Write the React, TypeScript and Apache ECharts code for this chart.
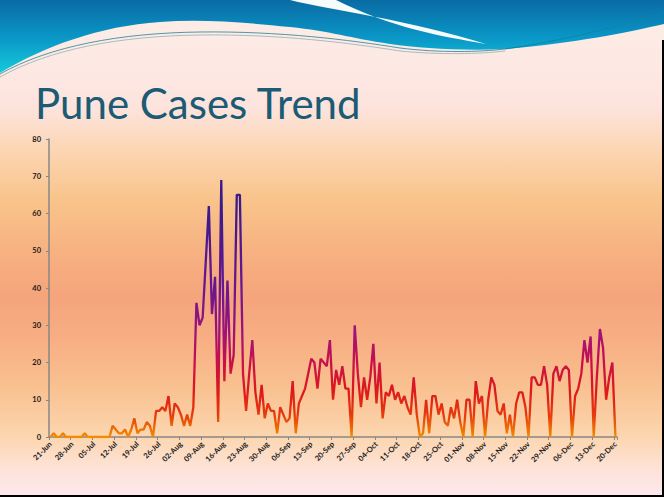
import React, { useEffect, useRef } from 'react';
import * as echarts from 'echarts';

// ---- data ----
const monthNames = ['Jun', 'Jul', 'Aug', 'Sep', 'Oct', 'Nov', 'Dec'];
const monthFirstDay = [21, 1, 1, 1, 1, 1, 1];
const junCases = [0, 1, 0, 0, 1, 0, 0, 0, 0, 0];
const julCases = [0, 1, 0, 0, 0, 0, 0, 0, 0, 0, 3, 2, 1, 1, 2, 0, 2, 5, 1, 2, 2, 4, 3, 0, 7, 7, 8, 7, 11, 3, 9];
const augCases = [8, 6, 3, 6, 3, 8, 36, 30, 32, 47, 62, 33, 43, 4, 69, 15, 42, 17, 22, 65, 65, 17, 7, 17, 26, 12, 6, 14, 5, 9, 7];
const sepCases = [7, 1, 8, 6, 4, 5, 15, 1, 9, 11, 13, 17, 21, 20, 13, 21, 20, 19, 26, 10, 18, 14, 19, 13, 13, 0, 30, 17, 8, 16];
const octCases = [10, 16, 25, 9, 20, 5, 12, 11, 14, 10, 12, 9, 11, 8, 6, 16, 6, 0, 1, 10, 1, 11, 11, 6, 9, 4, 3, 8, 5, 10, 4];
const novCases = [0, 10, 10, 0, 15, 9, 11, 0, 10, 16, 14, 7, 6, 9, 1, 6, 0, 9, 12, 12, 8, 0, 16, 16, 14, 14, 19, 14, 0, 17];
const decCases = [19, 15, 18, 19, 18, 0, 11, 13, 17, 26, 20, 27, 0, 16, 29, 24, 10, 16, 20, 0];
const monthCases = [junCases, julCases, augCases, sepCases, octCases, novCases, decCases];

const yMin = 0;
const yMax = 80;
const yInterval = 10;
const labelEvery = 7;

// colour by case count (value -> colour)
const colourValues = [0, 6, 12, 20, 28, 40, 60];
const colourList = ['#f28c00', '#e63a0c', '#df1a1a', '#c8104a', '#a0127a', '#6a1690', '#3c1a8e'];

const categories: string[] = [];
monthCases.forEach((vals, m) => {
  vals.forEach((_, k) => {
    categories.push(String(monthFirstDay[m] + k).padStart(2, '0') + '-' + monthNames[m]);
  });
});
const cases: number[] = ([] as number[]).concat(...monthCases);

// ---- decorative shapes ----
const WAVE_D =
  'M0 0 L664 0 L664 24 C630 32 570 44 505 49 C460 51 420 48 390 44 C350 38 330 31 290 27 C240 22 200 19 160 22 C100 26 45 46 0 73 Z';
const CRESCENT_D = 'M290 0 C330 10 410 20 486 44 C440 36 392 28 336 0 Z';
const LINE1_D = 'M0 74 C50 46 120 33 200 32 C280 31 350 40 400 48 C440 53 480 52 505 49';
const LINE2_D = 'M0 77 C50 49 120 36 200 35 C280 34 350 43 400 51 C440 55 480 54 505 51';
const LINE3_D = 'M505 49 C560 41 620 27 664 12';

echarts.graphic.registerShape('waveTop', echarts.graphic.extendPath(WAVE_D, {}));
echarts.graphic.registerShape('waveCrescent', echarts.graphic.extendPath(CRESCENT_D, {}));
echarts.graphic.registerShape('waveLine1', echarts.graphic.extendPath(LINE1_D, {}));
echarts.graphic.registerShape('waveLine2', echarts.graphic.extendPath(LINE2_D, {}));
echarts.graphic.registerShape('waveLine3', echarts.graphic.extendPath(LINE3_D, {}));

const GRID = { left: 49, right: 47, top: 139, bottom: 60 };
const H = 497;

export default function App() {
  const ref = useRef<HTMLDivElement>(null);

  useEffect(() => {
    document.body.style.margin = '0';
    if (!ref.current) return;
    const chart = echarts.init(ref.current, undefined, { renderer: 'svg' });
    const axisGrey = '#878787';
    const yBottom = H - GRID.bottom;
    const yTop = GRID.top;
    const lineGradient = new echarts.graphic.LinearGradient(
      0, yBottom, 0, yTop,
      colourValues.map((v, i) => ({ offset: (v - yMin) / (yMax - yMin), color: colourList[i] })),
      true
    );
    chart.setOption({
      animation: false,
      grid: GRID,
      graphic: {
        elements: [
          {
            type: 'waveTop', x: 0, y: 0, scaleX: 1, scaleY: 1, silent: true,
            style: {
              fill: new echarts.graphic.LinearGradient(0, 0, 0, 1, [
                { offset: 0, color: '#0a6ba4' },
                { offset: 0.5, color: '#0a95c6' },
                { offset: 1, color: '#14cadb' },
              ]),
            },
          },
          {
            type: 'waveCrescent', x: 0, y: 0, scaleX: 1, scaleY: 1, silent: true,
            style: { fill: '#f6fbfb' },
          },
          {
            type: 'waveLine1', x: 0, y: 0, scaleX: 1, scaleY: 1, silent: true,
            style: { fill: 'none', stroke: '#4f98a6', lineWidth: 1 },
          },
          {
            type: 'waveLine2', x: 0, y: 0, scaleX: 1, scaleY: 1, silent: true,
            style: { fill: 'none', stroke: '#a9bcc0', lineWidth: 1 },
          },
          {
            type: 'waveLine3', x: 0, y: 0, scaleX: 1, scaleY: 1, silent: true,
            style: { fill: 'none', stroke: '#0a86a8', lineWidth: 1 },
          },
          {
            type: 'text', left: 35, top: 82, silent: true,
            style: {
              text: 'Pune Cases Trend',
              fill: '#1b5b74',
              font: '42px Lato, "Open Sans", sans-serif',
            },
          },
          {
            type: 'rect', silent: true,
            shape: { x: 0, y: 495, width: 664, height: 2 },
            style: { fill: '#000' },
          },
          {
            type: 'rect', silent: true,
            shape: { x: 662, y: 40, width: 2, height: 457 },
            style: { fill: '#000' },
          },
        ],
      },
      xAxis: {
        type: 'category',
        data: categories,
        boundaryGap: true,
        axisLine: { lineStyle: { color: axisGrey, width: 1.5 } },
        axisTick: { show: true, interval: labelEvery - 1, length: 3, lineStyle: { color: axisGrey } },
        axisLabel: {
          interval: labelEvery - 1,
          rotate: 45,
          fontSize: 7.5,
          fontWeight: 'bold',
          color: '#1a1a1a',
          margin: 6,
          fontFamily: 'Lato, sans-serif',
        },
        splitLine: { show: false },
      },
      yAxis: {
        type: 'value',
        min: yMin,
        max: yMax,
        interval: yInterval,
        axisLine: { show: true, lineStyle: { color: axisGrey, width: 1.5 } },
        axisTick: { show: true, length: 3, lineStyle: { color: axisGrey } },
        splitLine: { show: false },
        axisLabel: {
          fontSize: 7.5,
          fontWeight: 'bold',
          color: '#1a1a1a',
          margin: 8,
          fontFamily: 'Lato, sans-serif',
        },
      },
      series: [
        {
          type: 'line',
          data: cases,
          symbol: 'none',
          showSymbol: false,
          lineStyle: { width: 2.3, color: lineGradient },
          itemStyle: { color: '#e01a18' },
        },
      ],
    });
    return () => chart.dispose();
  }, []);

  return (
    <div
      ref={ref}
      style={{
        position: 'fixed',
        left: 0,
        top: 0,
        width: 664,
        height: 497,
        background:
          'linear-gradient(to bottom, #fdeee6 0%, #fde8e4 14%, #fde3dc 22%, #fcd6b4 30%, #f9c48c 40%, #f7b282 50%, #f5a47b 60%, #f7ae82 68%, #f9c190 78%, #fcd6b0 88%, #fde2d6 94%, #fde8ee 100%)',
      }}
    />
  );
}
